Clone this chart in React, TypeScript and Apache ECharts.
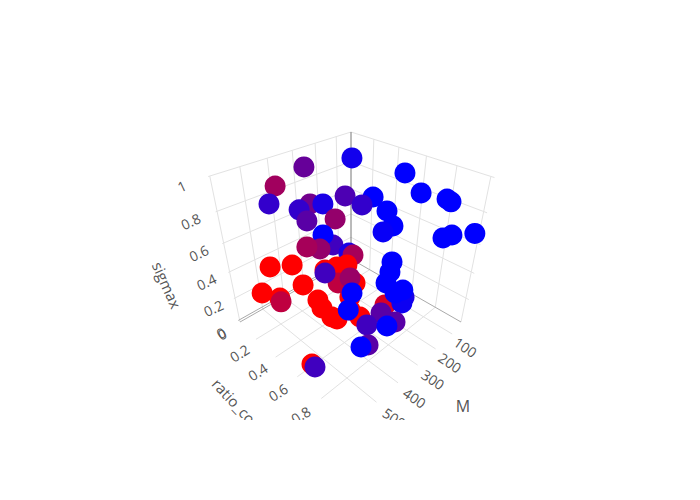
import React, { useEffect, useRef } from "react";
import * as echarts from "echarts";

const mTicks = [100, 200, 300, 400, 500];
const ratioTicks = [0.2, 0.4, 0.6, 0.8];
const sigmaTicks = [0.2, 0.4, 0.6, 0.8, 1];
const mRange = [25, 600];

const M = [305,440,110,495,98,134,125,120,191,232,219,209,232,251,128,106,31,370,416,327,412,314,363,383,399,433,316,307,519,471,450,543,508,510,389,355,334,358,405,456,466,470,466,432,415,391,361,390,390,433,310,239,244,258,225,246,214,250,340,308,409,344,439,464,568,568];
const ratioCo = [.11,.152,.157,.222,.556,.721,.873,.893,.468,.314,.429,.601,.681,.642,.886,.915,.98,.287,.291,.307,.343,.38,.451,.411,.413,.374,.493,.51,.218,.314,.351,.159,.248,.261,.427,.464,.508,.615,.657,.492,.545,.633,.666,.706,.751,.539,.581,.428,.647,.694,.769,.701,.698,.694,.788,.803,.761,.754,.787,.846,.793,.84,.853,.843,.65,.675];
const sigmax = [.933,.905,.908,.858,.923,.878,.89,.878,.8,.778,.753,.773,.728,.688,.663,.678,.66,.803,.798,.783,.748,.708,.605,.668,.59,.613,.533,.52,.475,.495,.353,.275,.253,.233,.445,.455,.473,.425,.398,.33,.315,.31,.313,.365,.325,.415,.445,.425,.405,.358,.308,.508,.44,.373,.29,.275,.315,.325,.293,.228,.288,.235,.22,.23,.088,.085];
const colorValue = [.6,.37,.93,.8,1,1,1,1,1,.7,.8,1,1,.97,1,1,1,.55,.8,.9,.65,.42,.75,1,.42,.35,.9,.35,0,0,0,0,0,.25,0,0,0,0,0,0,0,0,0,0,0,.25,.4,.75,1,1,.15,1,1,1,.9,.95,1,1,.65,.65,.75,1,.65,1,0,.75];

const B = [351, 259], R = [461, 322], L = [240, 322], F = [350, 421], V = [351, 858];
const det = (a: number[], b: number[]) => a[0] * b[1] - a[1] * b[0];
const d1 = [R[0] - F[0], R[1] - F[1]];
const d2 = [L[0] - F[0], L[1] - F[1]];
const sv = [B[0] - R[0] - L[0] + F[0], B[1] - R[1] - L[1] + F[1]];
const g = det(sv, d2) / det(d1, d2);
const h = det(d1, sv) / det(d1, d2);
const k = -(259 - 132) / (858 - 132);
const A = [R[0] * (g + 1) - B[0], L[0] * (h + 1) - B[0], V[0] * k];
const C = [R[1] * (g + 1) - B[1], L[1] * (h + 1) - B[1], V[1] * k];
function proj(m: number, r: number, s: number): number[] {
  const a = r, b = (m - mRange[0]) / (mRange[1] - mRange[0]), c = s;
  const w = g * a + h * b + k * c + 1;
  return [(A[0] * a + A[1] * b + A[2] * c + B[0]) / w, (C[0] * a + C[1] * b + C[2] * c + B[1]) / w];
}

function seg(out: any[], p: number[], q: number[]) { out.push(p, q, ["-", "-"]); }

export default function App() {
  const ref = useRef<HTMLDivElement>(null);
  useEffect(() => {
    const chart = echarts.init(ref.current!, undefined, { renderer: "svg" });
    const [m0, m1] = mRange;
    const grid: any[] = [];
    for (const t of mTicks) {
      seg(grid, proj(t, 0, 0), proj(t, 1.02, 0));
      seg(grid, proj(t, 0, 0), proj(t, 0, 1));
    }
    for (const t of ratioTicks) {
      seg(grid, proj(m0, t, 0), proj(m1 + 8, t, 0));
      seg(grid, proj(m0, t, 0), proj(m0, t, 1));
    }
    for (const t of sigmaTicks) {
      seg(grid, proj(m1 + 5, 0, t), proj(m0, 0, t));
      seg(grid, proj(m0, 0, t), proj(m0, 1.02, t));
    }
    seg(grid, proj(m1, 0, 0), proj(m1, 0, 1));
    seg(grid, proj(m0, 1, 0), proj(m0, 1, 1));
    const dark: any[] = [];
    seg(dark, proj(m0, 0, 0), proj(m0, 1, 0));
    seg(dark, proj(m0, 0, 0), proj(m1, 0, 0));
    seg(dark, proj(m0, -0.02, 0), proj(m1, -0.02, 0));
    const axisLine: any[] = [];
    seg(axisLine, proj(m0, 0, 0), proj(m0, 0, 1));
    const txt = (text: string, x: number, y: number, rot: number, fs = 14) => ({
      type: "text", x, y, rotation: (rot * Math.PI) / 180, z: 10,
      style: { text, fill: "#555", font: `${fs}px "Open Sans"`, align: "center", verticalAlign: "middle" },
    });
    const labels: any[] = [];
    for (const t of mTicks) { const p = proj(t, 1, 0); labels.push(txt(String(t), p[0] + 15 + 0.011 * t, p[1] + 14 + 0.008 * t, -34)); }
    for (const t of ratioTicks) { const p = proj(m1, t, 0); labels.push(txt(String(t), p[0] - 17 - 7 * t, p[1] + 14 + 5 * t, 32)); }
    for (const t of sigmaTicks) { const p = proj(m1, 0, t); labels.push(txt(String(t), p[0] - 20 - 8 * t, p[1] + 10, 25)); }
    labels.push(txt("0", 221, 333, 32), txt("0", 222, 334, 25));
    labels.push(txt("M", 463, 406, 0, 16), txt("ratio_co", 234, 401, -47, 15), txt("sigmax", 167, 285, -66, 15));
    const points = M.map((m, i) => [...proj(m, ratioCo[i], sigmax[i]), colorValue[i]]);
    chart.setOption({
      animation: false,
      backgroundColor: "#fff",
      grid: { left: 0, top: 0, width: 700, height: 500 },
      xAxis: { type: "value", min: 0, max: 700, show: false },
      yAxis: { type: "value", min: 0, max: 500, inverse: true, show: false },
      visualMap: { show: false, type: "continuous", dimension: 2, min: 0, max: 1, seriesIndex: 3, inRange: { color: ["#ff0000", "#0000ff"] } },
      graphic: [...labels, { type: "rect", shape: { x: 0, y: 420, width: 700, height: 80 }, style: { fill: "#fff" }, z: 100 }],
      series: [
        { type: "line", data: grid, symbol: "none", silent: true, connectNulls: false, lineStyle: { color: "#e2e2e2", width: 1 }, z: 1 },
        { type: "line", data: dark, symbol: "none", silent: true, connectNulls: false, lineStyle: { color: "#aaa", width: 1 }, z: 1 },
        { type: "line", data: axisLine, symbol: "none", silent: true, connectNulls: false, lineStyle: { color: "#777", width: 1 }, z: 1 },
        { type: "scatter", data: points, symbolSize: 21, itemStyle: { opacity: 1 }, z: 2 },
      ],
    });
    return () => chart.dispose();
  }, []);
  return <div ref={ref} style={{ position: "absolute", left: 0, top: 0, width: 700, height: 500 }} />;
}
